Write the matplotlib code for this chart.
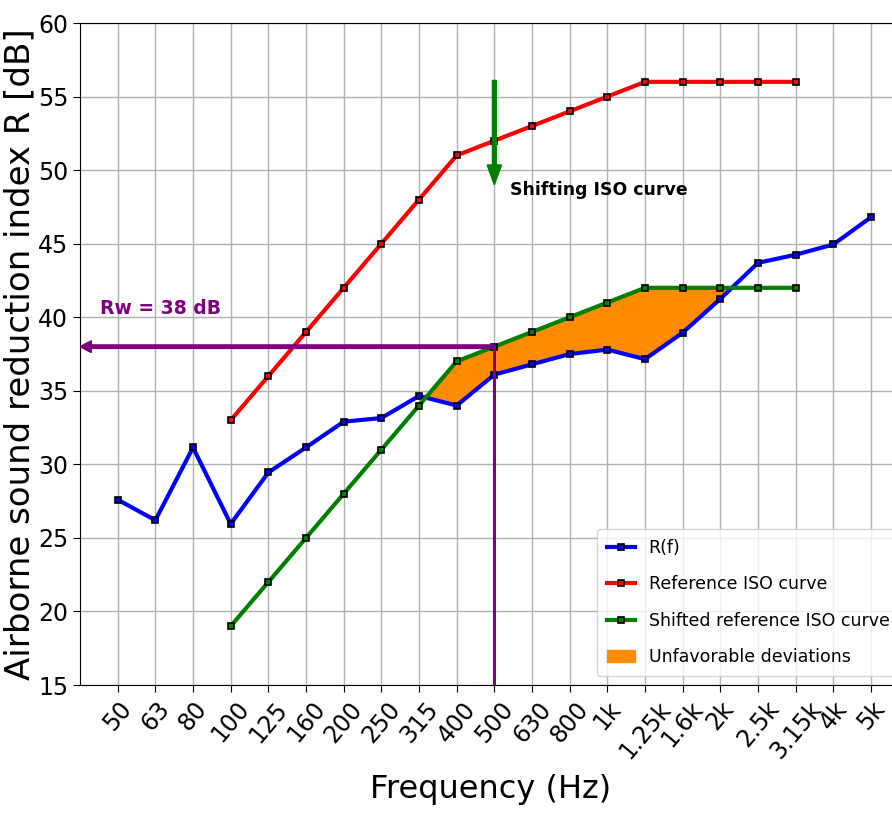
import matplotlib
matplotlib.use("Agg")
import matplotlib.pyplot as plt
import numpy as np

plt.rcParams["font.family"] = ["DejaVu Sans"]

# One-third octave bands, 50 Hz .. 5 kHz
bands = ["50", "63", "80", "100", "125", "160", "200", "250", "315", "400",
         "500", "630", "800", "1k", "1.25k", "1.6k", "2k", "2.5k", "3.15k",
         "4k", "5k"]

# Measured sound reduction index R(f) [dB]
r_measured = [27.6, 26.2, 31.15, 25.95, 29.45, 31.15, 32.9, 33.15, 34.65, 34.0,
              36.1, 36.8, 37.5, 37.8, 37.15, 38.95, 41.25, 43.7, 44.25, 44.95,
              46.8]

# ISO 717-1 reference curve, 100 Hz .. 3.15 kHz
iso_bands = bands[3:19]
iso_ref = [33, 36, 39, 42, 45, 48, 51, 52, 53, 54, 55, 56, 56, 56, 56, 56]
iso_shift = -14
rw_value = 38
rw_band = "500"

x_all = np.arange(len(bands))
x_iso = np.array([bands.index(b) for b in iso_bands])
iso_shifted = np.array(iso_ref) + iso_shift
r_on_iso = np.array(r_measured)[x_iso]
x_rw = bands.index(rw_band)

fig = plt.figure(figsize=(8.92, 8.16), dpi=100)
ax = fig.add_axes([0.0897, 0.1605, 0.929, 0.8113])

ax.grid(True, color="#b0b0b0", linewidth=1.0, zorder=0)
ax.set_axisbelow(True)

mk = dict(marker="s", markersize=4, markeredgecolor="black", markeredgewidth=1.2)

ax.fill_between(x_iso, r_on_iso, iso_shifted, where=iso_shifted > r_on_iso,
                interpolate=True, color="#FF8C00", zorder=2,
                label="Unfavorable deviations")
ax.plot(x_all, r_measured, color="blue", linewidth=3, zorder=4,
        markerfacecolor="blue", label="R(f)", **mk)
ax.plot(x_iso, iso_ref, color="red", linewidth=3, zorder=4,
        markerfacecolor="red", label="Reference ISO curve", **mk)
ax.plot(x_iso, iso_shifted, color="green", linewidth=3, zorder=4,
        markerfacecolor="green", label="Shifted reference ISO curve", **mk)

# Rw read-off: vertical drop at 500 Hz and arrow to the dB axis
ax.plot([x_rw, x_rw], [15, rw_value], color="purple", linewidth=2.2, zorder=5)
ax.arrow(x_rw, rw_value, -(x_rw + 1), 0, width=0.24, head_width=0.8,
         head_length=0.3, length_includes_head=True, color="purple",
         zorder=5)
ax.text(-0.47, 40.6, f"Rw = {rw_value} dB", color="purple", fontsize=13.5,
        fontweight="bold", ha="left", va="center")

# Downward shift of the reference curve
ax.arrow(x_rw, 56.1, 0, -7.1, width=0.1, head_width=0.38, head_length=1.35,
         length_includes_head=True, color="green", zorder=5)
ax.text(10.42, 48.65, "Shifting ISO curve", color="black", fontsize=12.5,
        fontweight="bold", ha="left", va="center")

ax.set_xlim(-1, 21)
ax.set_ylim(15, 60)
ax.set_xticks(x_all)
ax.set_xticklabels(bands, rotation=50, ha="center", fontsize=17)
ax.set_yticks(np.arange(15, 61, 5))
ax.tick_params(axis="y", labelsize=17)
ax.tick_params(length=5)

ax.set_ylabel("Airborne sound reduction index R [dB]", fontsize=24.5)
ax.yaxis.set_label_coords(-0.052, 0.5)
ax.set_xlabel("Frequency (Hz)", fontsize=23)
ax.xaxis.set_label_coords(0.495, -0.135)

handles, labels = ax.get_legend_handles_labels()
order = [1, 2, 3, 0]
ax.legend([handles[i] for i in order], [labels[i] for i in order],
          loc="lower right", fontsize=12.5, numpoints=1, labelspacing=1.05,
          handlelength=1.6, borderpad=0.6)

fig.savefig("out.png", dpi=100)
